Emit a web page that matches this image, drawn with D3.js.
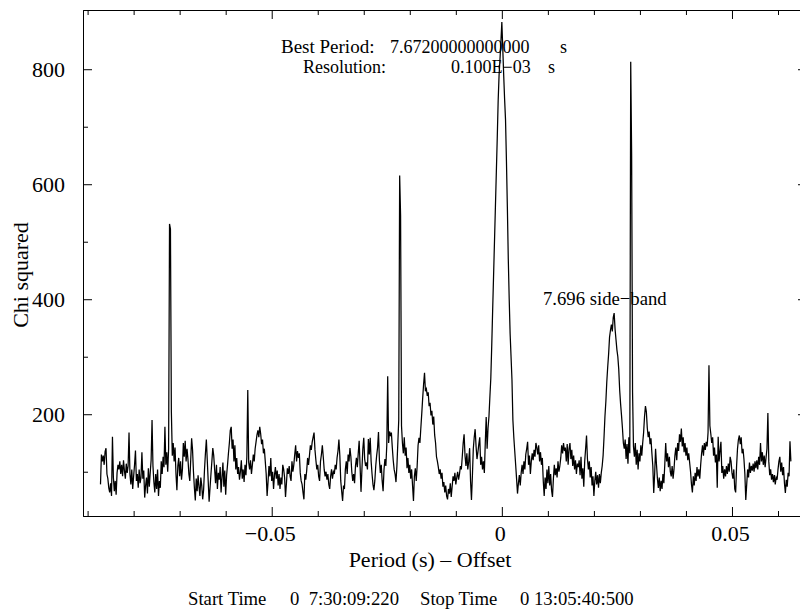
<!DOCTYPE html>
<html>
<head>
<meta charset="utf-8">
<script src="https://cdn.jsdelivr.net/npm/d3@7"></script>
<style>
  html, body { margin: 0; padding: 0; background: #fff; }
  svg { display: block; font-family: "Liberation Serif", "Times New Roman", serif; }
  .axis path, .axis line { stroke: #000; stroke-width: 1; }
  .axis text { font-family: "Liberation Serif", "Times New Roman", serif; fill: #000; }
</style>
</head>
<body>
<svg id="chart" width="800" height="609"></svg>
<script>
// Period grid of the folding search (offset from the best period, seconds)
const periodStart = -0.0872;
const periodStep = 0.0002;

// Chi-squared of the folded light curve at each trial period
const chiSquared = [
  78, 130, 118, 128, 112, 135, 141, 96, 88, 72,
  64, 80, 58, 161, 90, 66, 84, 60, 98, 112,
  104, 118, 96, 112, 92, 120, 102, 88, 114, 98,
  110, 168, 96, 78, 104, 70, 92, 112, 137, 84,
  96, 72, 104, 80, 90, 134, 88, 102, 55, 76,
  90, 62, 106, 74, 98, 120, 190, 110, 82, 64,
  96, 70, 104, 58, 84, 72, 118, 96, 126, 108,
  178, 112, 134, 100, 140, 531, 522, 204, 128, 150,
  118, 142, 96, 68, 110, 124, 92, 118, 86, 104,
  150, 126, 154, 118, 140, 122, 96, 84, 120, 158,
  138, 100, 72, 50, 88, 66, 94, 74, 58, 90,
  76, 52, 68, 104, 132, 156, 120, 84, 48, 72,
  96, 118, 141, 128, 104, 80, 112, 70, 98, 86,
  108, 64, 90, 116, 74, 102, 60, 94, 112, 132,
  150, 172, 178, 140, 156, 118, 146, 104, 124, 96,
  108, 86, 100, 120, 88, 104, 82, 112, 94, 126,
  242, 116, 104, 120, 96, 112, 130, 118, 140, 152,
  164, 172, 160, 178, 166, 148, 156, 132, 140, 118,
  96, 58, 82, 110, 92, 124, 84, 100, 70, 94,
  108, 88, 102, 76, 96, 70, 90, 78, 112, 104,
  90, 56, 80, 106, 96, 110, 92, 84, 118, 100,
  112, 130, 146, 118, 136, 124, 132, 98, 84, 78,
  64, 52, 96, 86, 102, 124, 112, 128, 146, 138,
  152, 160, 168, 138, 120, 104, 112, 92, 84, 118,
  130, 146, 126, 104, 92, 100, 86, 96, 78, 70,
  92, 104, 88, 100, 96, 112, 104, 124, 136, 156,
  128, 84, 66, 49, 76, 70, 104, 118, 96, 130,
  118, 141, 126, 100, 84, 96, 80, 110, 124, 108,
  132, 154, 110, 65, 104, 140, 159, 122, 110, 116,
  104, 157, 130, 159, 118, 96, 78, 68, 84, 110,
  128, 142, 169, 120, 98, 112, 84, 66, 104, 122,
  110, 146, 266, 150, 170, 164, 168, 142, 120, 104,
  96, 82, 110, 150, 190, 615, 545, 180, 150, 132,
  160, 128, 142, 106, 124, 98, 112, 88, 104, 76,
  49, 92, 106, 84, 110, 146, 159, 150, 176, 201,
  228, 252, 272, 240, 244, 232, 238, 214, 220, 198,
  206, 182, 196, 164, 150, 126, 118, 108, 96, 104,
  88, 98, 74, 82, 64, 76, 58, 52, 70, 62,
  80, 56, 74, 92, 84, 98, 78, 90, 100, 86,
  96, 110, 104, 126, 150, 165, 128, 110, 132, 104,
  118, 141, 84, 51, 92, 140, 160, 174, 144, 122,
  134, 148, 160, 112, 126, 104, 118, 98, 150, 195,
  140, 176, 196, 230, 262, 318, 380, 440, 500, 560,
  620, 680, 745, 790, 818, 848, 882, 836, 790, 748,
  712, 640, 560, 470, 400, 340, 300, 260, 190, 160,
  136, 112, 88, 62, 80, 94, 76, 98, 112, 96,
  118, 104, 130, 140, 152, 112, 128, 96, 118, 132,
  120, 138, 126, 150, 142, 130, 146, 118, 134, 112,
  124, 84, 58, 90, 70, 104, 80, 110, 76, 96,
  68, 56, 88, 112, 94, 106, 90, 118, 100, 110,
  124, 146, 132, 150, 136, 142, 118, 148, 112, 140,
  150, 122, 138, 110, 128, 104, 120, 96, 114, 108,
  120, 94, 126, 88, 106, 74, 118, 140, 163, 122,
  104, 118, 90, 108, 76, 92, 58, 84, 100, 78,
  94, 72, 96, 80, 98, 110, 128, 160, 196, 222,
  256, 282, 305, 334, 346, 356, 344, 368, 376, 348,
  330, 312, 300, 278, 242, 218, 198, 176, 150, 140,
  156, 122, 148, 114, 160, 132, 813, 651, 238, 144,
  126, 150, 112, 138, 104, 132, 118, 146, 128, 150,
  168, 196, 214, 204, 176, 160, 170, 148, 158, 132,
  110, 63, 96, 140, 112, 88, 72, 90, 66, 84,
  70, 96, 80, 112, 150, 118, 132, 108, 126, 100,
  92, 110, 88, 104, 128, 142, 120, 150, 136, 165,
  152, 175, 144, 160, 134, 150, 128, 142, 120, 132,
  116, 100, 78, 64, 92, 76, 98, 84, 108, 92,
  104, 88, 112, 132, 146, 128, 150, 138, 152, 144,
  168, 285, 180, 166, 150, 160, 128, 142, 116, 130,
  72, 161, 118, 136, 152, 98, 110, 88, 104, 92,
  110, 96, 114, 100, 126, 118, 98, 88, 104, 70,
  64, 110, 140, 156, 163, 148, 160, 132, 140, 122,
  96, 51, 78, 104, 90, 116, 98, 110, 102, 114,
  100, 118, 106, 120, 104, 126, 112, 150, 118, 134,
  112, 128, 108, 124, 140, 202, 118, 94, 104, 86,
  96, 82, 94, 78, 90, 86, 104, 118, 126, 100,
  116, 94, 108, 80, 63, 86, 74, 98, 92, 153, 118
];

// Axis ticks
const xMajorTicks = [-0.05, 0, 0.05];
const xMinorTicks = [-0.09, -0.08, -0.07, -0.06, -0.04, -0.03, -0.02, -0.01, 0.01, 0.02, 0.03, 0.04, 0.06];
const yMajorTicks = [200, 400, 600, 800];
const yMinorTicks = [100, 300, 500, 700];

// Text
const yTitle = "Chi squared";
const xTitle = "Period (s) \u2013 Offset";
const bestPeriodLabel = "Best Period:";
const bestPeriodValue = "7.67200000000000";
const resolutionLabel = "Resolution:";
const resolutionValue = "0.100E\u221203";
const unitLabel = "s";
const sideBandLabel = "7.696 side\u2212band";
const startLabel = "Start Time";
const startValue = "0  7:30:09:220";
const stopLabel = "Stop Time";
const stopValue = "0 13:05:40:500";

const svg = d3.select("#chart");
const plotLeft = 83, plotRight = 807, plotTop = 10, plotBottom = 516;

const x = d3.scaleLinear().domain([-0.0910, 0.0663]).range([plotLeft, plotRight]);
const y = d3.scaleLinear().domain([23, 903]).range([plotBottom, plotTop]);

const points = chiSquared.map((v, i) => ({ p: periodStart + i * periodStep, v }));

// Frame with inward ticks
const majorLen = 9, minorLen = 5;
const fmtX = d => d === 0 ? "0" : d3.format(".2f")(d);

function addAxis(gen, tx, ty, cls) {
  return svg.append("g").attr("class", "axis " + cls)
    .attr("transform", `translate(${tx},${ty})`).call(gen);
}

const bx = addAxis(d3.axisBottom(x).tickValues(xMajorTicks).tickSize(-majorLen).tickSizeOuter(0).tickPadding(9).tickFormat(fmtX), 0, plotBottom, "x-major");
addAxis(d3.axisBottom(x).tickValues(xMinorTicks).tickSize(-minorLen).tickSizeOuter(0).tickFormat(""), 0, plotBottom, "x-minor");
addAxis(d3.axisTop(x).tickValues(xMajorTicks).tickSize(-majorLen).tickSizeOuter(0).tickFormat(""), 0, plotTop, "x-top");
addAxis(d3.axisTop(x).tickValues(xMinorTicks).tickSize(-minorLen).tickSizeOuter(0).tickFormat(""), 0, plotTop, "x-top-minor");

const ly = addAxis(d3.axisLeft(y).tickValues(yMajorTicks).tickSize(-majorLen).tickSizeOuter(0).tickPadding(18).tickFormat(d3.format("d")), plotLeft, 0, "y-major");
addAxis(d3.axisLeft(y).tickValues(yMinorTicks).tickSize(-minorLen).tickSizeOuter(0).tickFormat(""), plotLeft, 0, "y-minor");
addAxis(d3.axisRight(y).tickValues(yMajorTicks).tickSize(-majorLen).tickSizeOuter(0).tickFormat(""), plotRight, 0, "y-right");
addAxis(d3.axisRight(y).tickValues(yMinorTicks).tickSize(-minorLen).tickSizeOuter(0).tickFormat(""), plotRight, 0, "y-right-minor");

svg.selectAll(".axis path.domain").attr("fill", "none");
bx.selectAll("text").style("font-size", "22px").attr("dx", "-2");
ly.selectAll("text").style("font-size", "22px");

// Chi-squared curve
const line = d3.line().x(d => x(d.p)).y(d => y(d.v));
svg.append("path")
  .datum(points)
  .attr("d", line)
  .attr("fill", "none")
  .attr("stroke", "#000")
  .attr("stroke-width", 1.25)
  .attr("stroke-linejoin", "miter");

// Titles
svg.append("text")
  .attr("transform", "translate(28,275) rotate(-90)")
  .attr("text-anchor", "middle")
  .style("font-size", "22px")
  .text(yTitle);

svg.append("text")
  .attr("x", 430).attr("y", 567)
  .attr("text-anchor", "middle")
  .style("font-size", "22px")
  .text(xTitle);

// Annotations
const notes = [
  { t: bestPeriodLabel, x: 281, y: 53, s: 19 },
  { t: bestPeriodValue, x: 390, y: 53, s: 18 },
  { t: unitLabel, x: 560, y: 53, s: 18 },
  { t: resolutionLabel, x: 303, y: 73, s: 18 },
  { t: resolutionValue, x: 451, y: 73, s: 18 },
  { t: unitLabel, x: 548, y: 73, s: 18 },
  { t: sideBandLabel, x: 543, y: 305, s: 18.7 },
  { t: startLabel, x: 188, y: 605, s: 18.7 },
  { t: startValue, x: 290, y: 605, s: 18.7 },
  { t: stopLabel, x: 420, y: 605, s: 18.7 },
  { t: stopValue, x: 520, y: 605, s: 18.7 }
];
svg.append("g").selectAll("text")
  .data(notes)
  .join("text")
  .attr("x", d => d.x).attr("y", d => d.y)
  .style("white-space", "pre")
  .style("font-size", d => d.s + "px")
  .text(d => d.t);
</script>
</body>
</html>
